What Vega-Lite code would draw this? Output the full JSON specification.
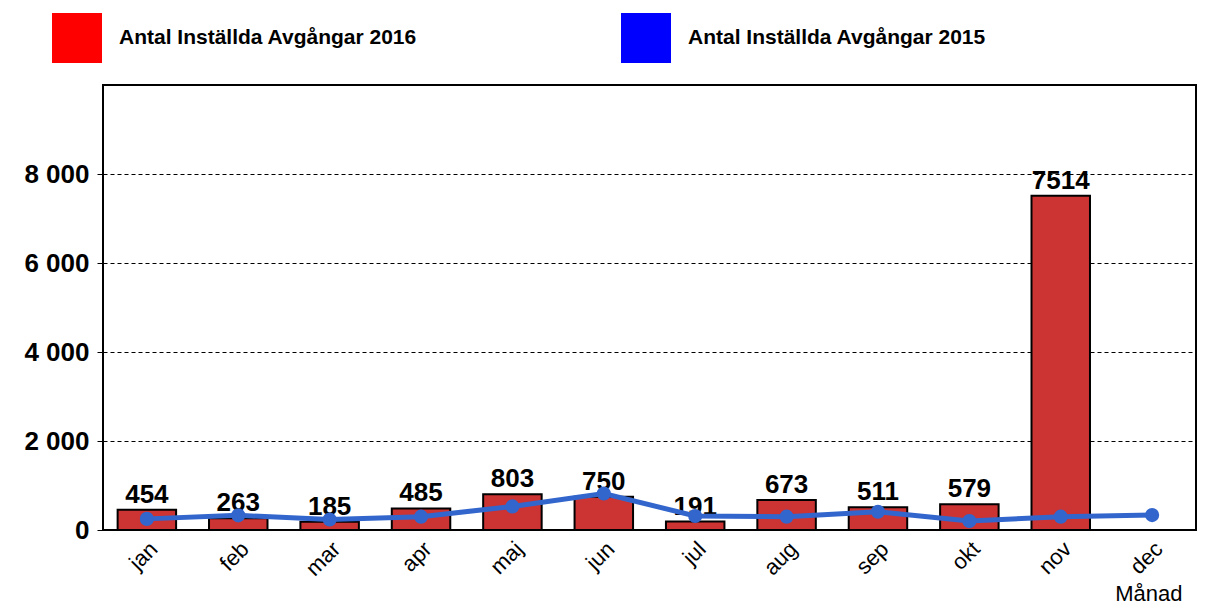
{
  "$schema": "https://vega.github.io/schema/vega-lite/v6.json",
  "width": 1093,
  "height": 445,
  "autosize": {"type": "none"},
  "padding": {"left": 103, "top": 85, "right": 11, "bottom": 75},
  "background": "white",
  "config": {
    "font": "Liberation Sans",
    "view": {"stroke": "black", "strokeWidth": 2}
  },
  "data": {
    "values": [
      {"m": "jan", "s": "2016", "v": 454},
      {"m": "feb", "s": "2016", "v": 263},
      {"m": "mar", "s": "2016", "v": 185},
      {"m": "apr", "s": "2016", "v": 485},
      {"m": "maj", "s": "2016", "v": 803},
      {"m": "jun", "s": "2016", "v": 750},
      {"m": "jul", "s": "2016", "v": 191},
      {"m": "aug", "s": "2016", "v": 673},
      {"m": "sep", "s": "2016", "v": 511},
      {"m": "okt", "s": "2016", "v": 579},
      {"m": "nov", "s": "2016", "v": 7514},
      {"m": "jan", "s": "2015", "v": 250},
      {"m": "feb", "s": "2015", "v": 330},
      {"m": "mar", "s": "2015", "v": 235},
      {"m": "apr", "s": "2015", "v": 300},
      {"m": "maj", "s": "2015", "v": 530},
      {"m": "jun", "s": "2015", "v": 820},
      {"m": "jul", "s": "2015", "v": 315},
      {"m": "aug", "s": "2015", "v": 300},
      {"m": "sep", "s": "2015", "v": 410},
      {"m": "okt", "s": "2015", "v": 200},
      {"m": "nov", "s": "2015", "v": 300},
      {"m": "dec", "s": "2015", "v": 335}
    ]
  },
  "encoding": {
    "x": {
      "field": "m",
      "type": "nominal",
      "sort": null,
      "scale": {
        "domain": ["jan", "feb", "mar", "apr", "maj", "jun", "jul", "aug", "sep", "okt", "nov", "dec"],
        "paddingInner": 0.36,
        "paddingOuter": 0.16
      },
      "axis": {
        "labelAngle": -45,
        "labelFontSize": 22,
        "labelColor": "black",
        "labelPadding": 8,
        "ticks": false,
        "domain": false,
        "title": "Månad",
        "titleFontSize": 22,
        "titleFontWeight": "normal",
        "titleColor": "black",
        "titleAlign": "right",
        "titleAnchor": "end",
        "titleX": 1079,
        "titleY": 70,
        "titleBaseline": "alphabetic"
      }
    },
    "y": {
      "field": "v",
      "type": "quantitative",
      "scale": {"domain": [0, 10000], "nice": false},
      "axis": {
        "values": [0, 2000, 4000, 6000, 8000],
        "labelExpr": "replace(format(datum.value, ','), ',', ' ')",
        "labelFontSize": 26,
        "labelFontWeight": "bold",
        "labelColor": "black",
        "labelPadding": 8,
        "tickSize": 6,
        "tickColor": "black",
        "tickWidth": 1,
        "domain": false,
        "grid": true,
        "gridColor": "black",
        "gridOpacity": 1,
        "gridWidth": 1,
        "gridDash": [4, 3],
        "title": null
      }
    }
  },
  "layer": [
    {
      "transform": [{"filter": "datum.s == '2016'"}],
      "mark": {"type": "bar", "color": "#CC3333", "stroke": "black", "strokeWidth": 2}
    },
    {
      "transform": [{"filter": "datum.s == '2016'"}],
      "mark": {"type": "text", "fontSize": 26, "fontWeight": "bold", "color": "black", "baseline": "alphabetic", "dy": -7},
      "encoding": {"text": {"field": "v", "type": "quantitative", "format": "d"}}
    },
    {
      "transform": [{"filter": "datum.s == '2015'"}],
      "mark": {
        "type": "line",
        "color": "#3366CC",
        "strokeWidth": 5,
        "point": {"filled": true, "size": 200, "color": "#3366CC"}
      }
    },
    {
      "mark": {"type": "point", "filled": true, "opacity": 0},
      "encoding": {
        "color": {
          "field": "s",
          "type": "nominal",
          "scale": {"domain": ["2016", "2015"], "range": ["#FF0000", "#0000FF"]},
          "legend": {
            "orient": "none",
            "legendX": -51,
            "legendY": -72,
            "direction": "horizontal",
            "title": null,
            "padding": 0,
            "symbolType": "square",
            "symbolSize": 2500,
            "symbolOpacity": 1,
            "symbolStrokeWidth": 0,
            "labelFont": "Liberation Sans",
            "labelFontSize": 21,
            "labelFontWeight": "bold",
            "labelColor": "black",
            "labelOffset": 17,
            "labelLimit": 400,
            "columnPadding": 204,
            "labelExpr": "'Antal Inställda Avgångar ' + datum.label"
          }
        }
      }
    }
  ]
}
